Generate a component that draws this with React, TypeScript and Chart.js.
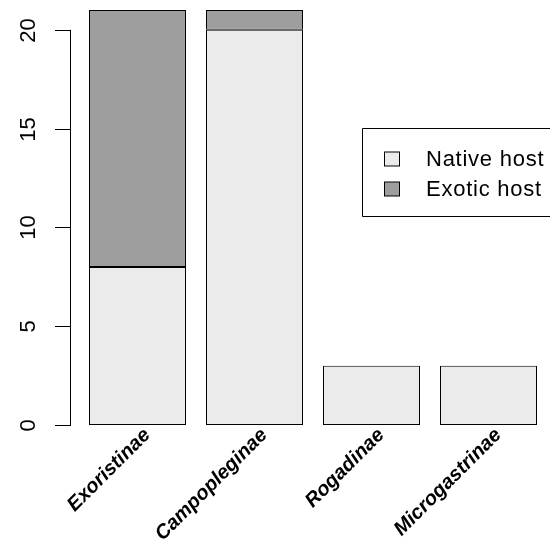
import React, { useEffect, useRef } from "react";
import { Chart, registerables } from "chart.js";

Chart.register(...registerables);

const categories = ["Exoristinae", "Campopleginae", "Rogadinae", "Microgastrinae"];
const nativeHost = [8, 20, 3, 3];
const exoticHost = [13, 1, 0, 0];
const yTicks = [0, 5, 10, 15, 20];
const seriesLabels = ["Native host", "Exotic host"];
const seriesColors = ["#EBEBEB", "#9E9E9E"];

const FONT = "'Liberation Sans', Arial, Helvetica, sans-serif";

const rAxesPlugin = {
  id: "rAxes",
  afterDraw(chart: any) {
    const ctx = chart.ctx;
    const y = chart.scales.y;
    const x = chart.scales.x;
    const area = chart.chartArea;
    ctx.save();
    ctx.strokeStyle = "#000";
    ctx.fillStyle = "#000";
    ctx.lineWidth = 1;
    // y axis
    const ax = area.left - 9;
    const y0 = y.getPixelForValue(yTicks[0]);
    const y1 = y.getPixelForValue(yTicks[yTicks.length - 1]);
    ctx.beginPath();
    ctx.moveTo(ax + 0.5, y0);
    ctx.lineTo(ax + 0.5, y1);
    ctx.stroke();
    ctx.font = `22px ${FONT}`;
    ctx.textAlign = "center";
    ctx.textBaseline = "alphabetic";
    for (const t of yTicks) {
      const py = Math.round(y.getPixelForValue(t)) + 0.5;
      ctx.beginPath();
      ctx.moveTo(ax - 15, py);
      ctx.lineTo(ax + 1, py);
      ctx.stroke();
      ctx.save();
      ctx.translate(ax - 35, py);
      ctx.rotate(-Math.PI / 2);
      ctx.fillText(String(t), 0, 0);
      ctx.restore();
    }
    // x labels
    ctx.font = `italic bold 20px ${FONT}`;
    ctx.textAlign = "right";
    categories.forEach((c, i) => {
      const px = x.getPixelForValue(i) + 13.5;
      const py = y0 + 11;
      ctx.save();
      ctx.translate(px, py);
      ctx.rotate(-Math.PI / 4);
      ctx.fillText(c, 0, 0);
      ctx.restore();
    });
    // legend
    const lx = 362, ly = 128, lw = 200, lh = 88;
    ctx.beginPath();
    ctx.rect(lx + 0.5, ly + 0.5, lw, lh);
    ctx.stroke();
    ctx.font = `22px ${FONT}`;
    ctx.textAlign = "left";
    try { (ctx as any).letterSpacing = "0.75px"; } catch (e) {}
    seriesLabels.forEach((s, i) => {
      const base = 165.5 + i * 30;
      ctx.fillStyle = seriesColors[i];
      ctx.fillRect(384.5, base - 13.5, 15, 14);
      ctx.strokeStyle = "#000";
      ctx.strokeRect(384.5, base - 13.5, 15, 14);
      ctx.fillStyle = "#000";
      ctx.fillText(s, 426, base);
    });
    ctx.restore();
  },
};

export default function App() {
  const ref = useRef<HTMLCanvasElement>(null);
  useEffect(() => {
    document.body.style.margin = "0";
    const chart = new Chart(ref.current!, {
      type: "bar",
      data: {
        labels: categories,
        datasets: [
          {
            label: seriesLabels[0],
            data: nativeHost,
            backgroundColor: seriesColors[0],
            borderColor: "#000",
            borderWidth: 1,
            borderSkipped: false,
            clip: false,
          },
          {
            label: seriesLabels[1],
            data: exoticHost,
            backgroundColor: seriesColors[1],
            borderColor: "#000",
            borderWidth: 1,
            borderSkipped: false,
            clip: false,
          },
        ],
      } as any,
      options: {
        animation: false,
        responsive: false,
        devicePixelRatio: 1,
        layout: { padding: { left: 79, right: 3, top: 10, bottom: 123 } },
        datasets: { bar: { barPercentage: 0.829, categoryPercentage: 1 } },
        scales: {
          x: { stacked: true, display: false },
          y: { stacked: true, display: false, min: 0, max: 21 },
        },
        plugins: { legend: { display: false }, tooltip: { enabled: false } },
      } as any,
      plugins: [rAxesPlugin],
    });
    return () => chart.destroy();
  }, []);
  return (
    <div style={{ position: "fixed", left: 0, top: 0, width: 550, height: 548, background: "#fff" }}>
      <canvas ref={ref} width={550} height={548} style={{ width: 550, height: 548 }} />
    </div>
  );
}
